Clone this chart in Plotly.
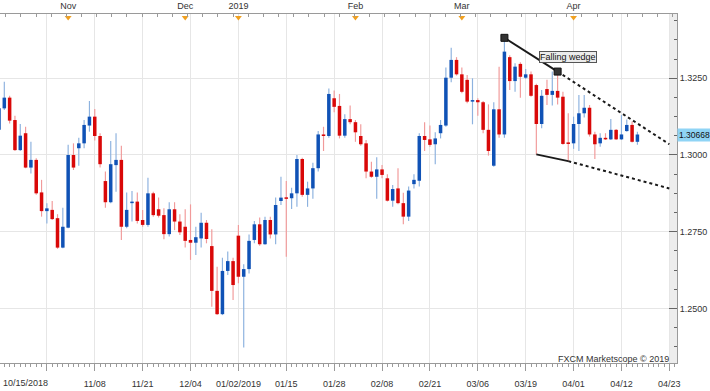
import plotly.graph_objects as go

# ---- data (GBP/USD daily candles, index 0 = 10/15/2018) ----
opens = [1.3082, 1.3152, 1.3187, 1.3114, 1.3016, 1.3071, 1.2959, 1.2984, 1.2878, 1.2817,
         1.2821, 1.2794, 1.2698, 1.2763, 1.3000, 1.3022, 1.3038, 1.3096, 1.3125, 1.3062,
         1.2915, 1.2846, 1.2967, 1.2984, 1.2766, 1.2843, 1.2848, 1.2788, 1.2772, 1.2875,
         1.2823, 1.2804, 1.2742, 1.2823, 1.2783, 1.2766, 1.2723, 1.2714, 1.2728, 1.2779,
         1.2703, 1.2557, 1.2481, 1.2622, 1.2654, 1.2737, 1.2603, 1.2628, 1.2723, 1.2774,
         1.2709, 1.2788, 1.2741, 1.2850, 1.2861, 1.2859, 1.2875, 1.2987, 1.2870, 1.2891,
         1.2957, 1.3067, 1.3062, 1.3185, 1.3160, 1.3063, 1.3117, 1.3107, 1.3062, 1.3038,
         1.2946, 1.2929, 1.2953, 1.2924, 1.2851, 1.2891, 1.2843, 1.2799, 1.2905, 1.2916,
         1.3062, 1.3051, 1.3035, 1.3071, 1.3096, 1.3252, 1.3310, 1.3263, 1.3245, 1.3174,
         1.3179, 1.3172, 1.3082, 1.2965, 1.3149, 1.3067, 1.3319, 1.3241, 1.3297, 1.3252,
         1.3263, 1.3228, 1.3101, 1.3215, 1.3196, 1.3209, 1.3190, 1.3041, 1.3038, 1.3101,
         1.3136, 1.3154, 1.3067, 1.3038, 1.3056, 1.3051, 1.3082, 1.3051, 1.3078, 1.3098,
         1.3043]
highs = [1.3163, 1.3239, 1.3193, 1.3128, 1.3101, 1.3092, 1.3043, 1.2989, 1.2919, 1.2843,
         1.2850, 1.2807, 1.2828, 1.3033, 1.3038, 1.3056, 1.3114, 1.3176, 1.3150, 1.3071,
         1.2946, 1.3046, 1.3071, 1.3030, 1.2878, 1.2883, 1.2878, 1.2821, 1.2926, 1.2880,
         1.2861, 1.2826, 1.2846, 1.2846, 1.2807, 1.2823, 1.2839, 1.2766, 1.2812, 1.2788,
         1.2758, 1.2636, 1.2665, 1.2685, 1.2665, 1.2772, 1.2644, 1.2741, 1.2785, 1.2796,
         1.2799, 1.2799, 1.2861, 1.2929, 1.2915, 1.2893, 1.3000, 1.2991, 1.2913, 1.2975,
         1.3078, 1.3092, 1.3217, 1.3210, 1.3199, 1.3133, 1.3161, 1.3114, 1.3100, 1.3049,
         1.2978, 1.2993, 1.2967, 1.2937, 1.2902, 1.2957, 1.2877, 1.2897, 1.2937, 1.3071,
         1.3107, 1.3096, 1.3074, 1.3114, 1.3285, 1.3350, 1.3319, 1.3285, 1.3261, 1.3250,
         1.3185, 1.3176, 1.3165, 1.3172, 1.3288, 1.3382, 1.3325, 1.3299, 1.3302, 1.3280,
         1.3272, 1.3232, 1.3212, 1.3245, 1.3272, 1.3272, 1.3206, 1.3136, 1.3125, 1.3196,
         1.3196, 1.3163, 1.3076, 1.3071, 1.3071, 1.3117, 1.3085, 1.3130, 1.3116, 1.3109,
         1.3076]
lows = [1.3072, 1.3147, 1.3103, 1.3013, 1.3013, 1.2957, 1.2940, 1.2870, 1.2799, 1.2777,
        1.2788, 1.2694, 1.2696, 1.2761, 1.2951, 1.2965, 1.3022, 1.3076, 1.3047, 1.2959,
        1.2828, 1.2843, 1.2880, 1.2723, 1.2761, 1.2783, 1.2777, 1.2766, 1.2766, 1.2799,
        1.2796, 1.2725, 1.2734, 1.2755, 1.2739, 1.2698, 1.2658, 1.2674, 1.2698, 1.2712,
        1.2505, 1.2478, 1.2478, 1.2609, 1.2527, 1.2582, 1.2372, 1.2614, 1.2712, 1.2704,
        1.2707, 1.2728, 1.2709, 1.2837, 1.2668, 1.2824, 1.2831, 1.2864, 1.2831, 1.2857,
        1.2946, 1.3013, 1.3056, 1.3139, 1.3054, 1.3056, 1.3100, 1.3043, 1.3030, 1.2924,
        1.2926, 1.2857, 1.2924, 1.2848, 1.2831, 1.2839, 1.2774, 1.2785, 1.2891, 1.2897,
        1.3013, 1.3027, 1.2970, 1.3054, 1.3092, 1.3237, 1.3259, 1.3201, 1.3169, 1.3100,
        1.3128, 1.3071, 1.2998, 1.2962, 1.3056, 1.3056, 1.3212, 1.3206, 1.3187, 1.3248,
        1.3190, 1.3002, 1.3087, 1.3163, 1.3161, 1.3165, 1.3033, 1.2980, 1.3020, 1.3013,
        1.3122, 1.3060, 1.2987, 1.3027, 1.3049, 1.3049, 1.3049, 1.3049, 1.3076, 1.3041,
        1.3033]
closes = [1.3152, 1.3187, 1.3112, 1.3016, 1.3063, 1.2959, 1.2984, 1.2875, 1.2817, 1.2826,
          1.2791, 1.2698, 1.2766, 1.3000, 1.2959, 1.3038, 1.3098, 1.3125, 1.3062, 1.2970,
          1.2846, 1.2970, 1.2984, 1.2766, 1.2821, 1.2848, 1.2785, 1.2772, 1.2875, 1.2804,
          1.2802, 1.2742, 1.2823, 1.2783, 1.2748, 1.2720, 1.2714, 1.2732, 1.2779, 1.2726,
          1.2557, 1.2481, 1.2622, 1.2654, 1.2576, 1.2603, 1.2628, 1.2720, 1.2774, 1.2709,
          1.2788, 1.2741, 1.2837, 1.2861, 1.2857, 1.2875, 1.2987, 1.2870, 1.2891, 1.2957,
          1.3067, 1.3062, 1.3199, 1.3157, 1.3063, 1.3117, 1.3107, 1.3074, 1.3035, 1.2946,
          1.2929, 1.2953, 1.2935, 1.2851, 1.2889, 1.2843, 1.2799, 1.2884, 1.2919, 1.3062,
          1.3049, 1.3033, 1.3054, 1.3098, 1.3252, 1.3310, 1.3263, 1.3206, 1.3174, 1.3179,
          1.3172, 1.3082, 1.3013, 1.3149, 1.3067, 1.3337, 1.3241, 1.3288, 1.3255, 1.3263,
          1.3193, 1.3101, 1.3193, 1.3196, 1.3209, 1.3187, 1.3036, 1.3036, 1.3101, 1.3136,
          1.3154, 1.3067, 1.3035, 1.3056, 1.3051, 1.3082, 1.3051, 1.3067, 1.3098, 1.3043,
          1.30668]

bottom_tick_pos = [0, 9, 18, 27, 36, 45, 54, 63, 72, 81, 90, 99, 108, 117, 126]
bottom_tick_text = ["10/15/2018", "", "11/08", "11/21", "12/04", "01/02/2019", "01/15",
                    "01/28", "02/08", "02/21", "03/06", "03/19", "04/01", "04/12", "04/23"]
month_pos = [13, 35, 45, 67, 87, 108]
month_text = ["Nov", "Dec", "2019", "Feb", "Mar", "Apr"]
price_ticks = [1.2500, 1.2750, 1.3000, 1.3250]

upper_wedge_x = [95, 105]
upper_wedge_y = [1.3382, 1.3272]
upper_ext_x = [105, 126]
upper_ext_y = [1.3272, 1.3035]
lower_wedge_x = [101, 107]
lower_wedge_y = [1.3002, 1.2980]
lower_ext_x = [107, 126]
lower_ext_y = [1.2980, 1.2891]
last_price = 1.30668

# ---- styling ----
FONT = "Liberation Sans, Arial, sans-serif"
FS = 9
UP_BODY, DN_BODY = "#1052b6", "#d90808"
UP_WICK, DN_WICK = "#8db2df", "#f19a9a"
GRID = "#e6e6e6"
AXIS = "#9a9a9a"
TXT = "#333333"

x_idx = list(range(len(opens)))
up = [c >= o for o, c in zip(opens, closes)]
wick_col = [UP_WICK if u else DN_WICK for u in up]
body_col = [UP_BODY if u else DN_BODY for u in up]
body_base = [min(o, c) for o, c in zip(opens, closes)]
body_h = [max(abs(c - o), 0.0005) for o, c in zip(opens, closes)]
wick_h = [h - l for h, l in zip(highs, lows)]

fig = go.Figure()
fig.add_trace(go.Bar(x=x_idx, y=wick_h, base=lows, width=0.22,
                     marker=dict(color=wick_col, line=dict(width=0)), hoverinfo="skip"))
fig.add_trace(go.Bar(x=x_idx, y=body_h, base=body_base, width=0.66,
                     marker=dict(color=body_col, line=dict(width=0)), hoverinfo="skip"))

# wedge lines
fig.add_trace(go.Scatter(x=upper_ext_x, y=upper_ext_y, mode="lines",
                         line=dict(color="#1a1a1a", width=2, dash="dot")))
fig.add_trace(go.Scatter(x=lower_ext_x, y=lower_ext_y, mode="lines",
                         line=dict(color="#1a1a1a", width=2, dash="dot")))
fig.add_trace(go.Scatter(x=lower_wedge_x, y=lower_wedge_y, mode="lines",
                         line=dict(color="#1a1a1a", width=2)))
fig.add_trace(go.Scatter(x=upper_wedge_x, y=upper_wedge_y, mode="lines+markers",
                         line=dict(color="#1a1a1a", width=2),
                         marker=dict(symbol="square", size=7, color="#333333",
                                     line=dict(color="#111111", width=1))))

# month triangles on top axis
fig.add_trace(go.Scatter(x=month_pos, y=[0.99] * len(month_pos), xaxis="x2", yaxis="y3",
                         mode="markers", cliponaxis=False,
                         marker=dict(symbol="triangle-down", size=6, color="#f0a020",
                                     line=dict(width=0))))

X_RANGE = [0.19, 127.44]
DOM_R = 677 / 710

fig.update_layout(
    width=710, height=391,
    margin=dict(l=0, r=0, t=14, b=28, autoexpand=False),
    paper_bgcolor="white", plot_bgcolor="white",
    showlegend=False, barmode="overlay",
    font=dict(family=FONT, size=FS, color=TXT),
    xaxis=dict(range=X_RANGE, domain=[0, DOM_R], tickmode="array", automargin=False,
               tickvals=bottom_tick_pos,
               ticktext=[""] + bottom_tick_text[1:],
               showgrid=True, gridcolor=GRID, gridwidth=1, zeroline=False,
               showline=True, linecolor=AXIS, linewidth=1,
               ticks="outside", ticklen=7, tickcolor=AXIS,
               ticklabelstandoff=5,
               minor=dict(ticks="outside", ticklen=3, tickcolor=AXIS,
                          tickmode="linear", tick0=0, dtick=1, showgrid=False),
               tickfont=dict(family=FONT, size=FS, color=TXT)),
    xaxis2=dict(range=X_RANGE, domain=[0, DOM_R], overlaying="x", side="top",
                anchor="y", tickmode="array", tickvals=month_pos, ticktext=month_text,
                automargin=False,
                showgrid=False, zeroline=False, showline=True, linecolor=AXIS,
                ticks="", ticklabelstandoff=0,
                minor=dict(ticks="inside", ticklen=3, tickcolor=AXIS,
                           tickmode="linear", tick0=1.26, dtick=2.85, showgrid=False),
                tickfont=dict(family=FONT, size=FS, color=TXT)),
    yaxis=dict(range=[1.23218, 1.34597], side="right", anchor="x", automargin=False,
               tickmode="array", tickvals=price_ticks,
               ticktext=[f"{v:.4f}" for v in price_ticks],
               showgrid=True, gridcolor=GRID, zeroline=False,
               showline=True, linecolor=AXIS, linewidth=1,
               ticks="inside", ticklen=8, tickcolor="#666666",
               minor=dict(ticks="inside", ticklen=3, tickcolor="#666666",
                          tickmode="linear", tick0=1.25, dtick=0.00625, showgrid=False),
               tickfont=dict(family=FONT, size=FS, color=TXT)),
    yaxis3=dict(range=[0, 1], overlaying="y", visible=False, fixedrange=True),
)

fig.add_shape(type="rect", xref="paper", yref="paper", x0=669 / 710, x1=DOM_R,
              y0=0, y1=1, fillcolor="#ededed", line=dict(width=0), layer="below")

fig.add_annotation(text=bottom_tick_text[0], xref="paper", yref="paper", x=0.001,
                   xanchor="left", y=-20 / 349, yanchor="middle", showarrow=False,
                   font=dict(family=FONT, size=FS, color=TXT))
fig.add_annotation(text="Falling wedge", x=107, y=1.3319, showarrow=False,
                   bgcolor="#ececec", bordercolor="#555555", borderwidth=1, borderpad=0,
                   font=dict(family=FONT, size=FS, color="#111111"))
fig.add_annotation(text="FXCM Marketscope © 2019", xref="paper", yref="paper",
                   x=671 / 710, xanchor="right", y=4 / 349, yanchor="middle",
                   showarrow=False, font=dict(family=FONT, size=FS, color=TXT))
fig.add_annotation(text=f"{last_price:.5f}", xref="paper", yref="y", x=DOM_R + 0.0005,
                   xanchor="left", y=last_price, yanchor="middle", showarrow=False,
                   bgcolor="#8fd4f5", borderpad=1,
                   font=dict(family=FONT, size=8.5, color="#111111"))

fig.write_html("out.html",
               config={"displayModeBar": False, "staticPlot": True},
               post_script="document.body.style.margin='0';document.body.style.padding='0';"
                           "document.body.style.overflow='hidden';")
